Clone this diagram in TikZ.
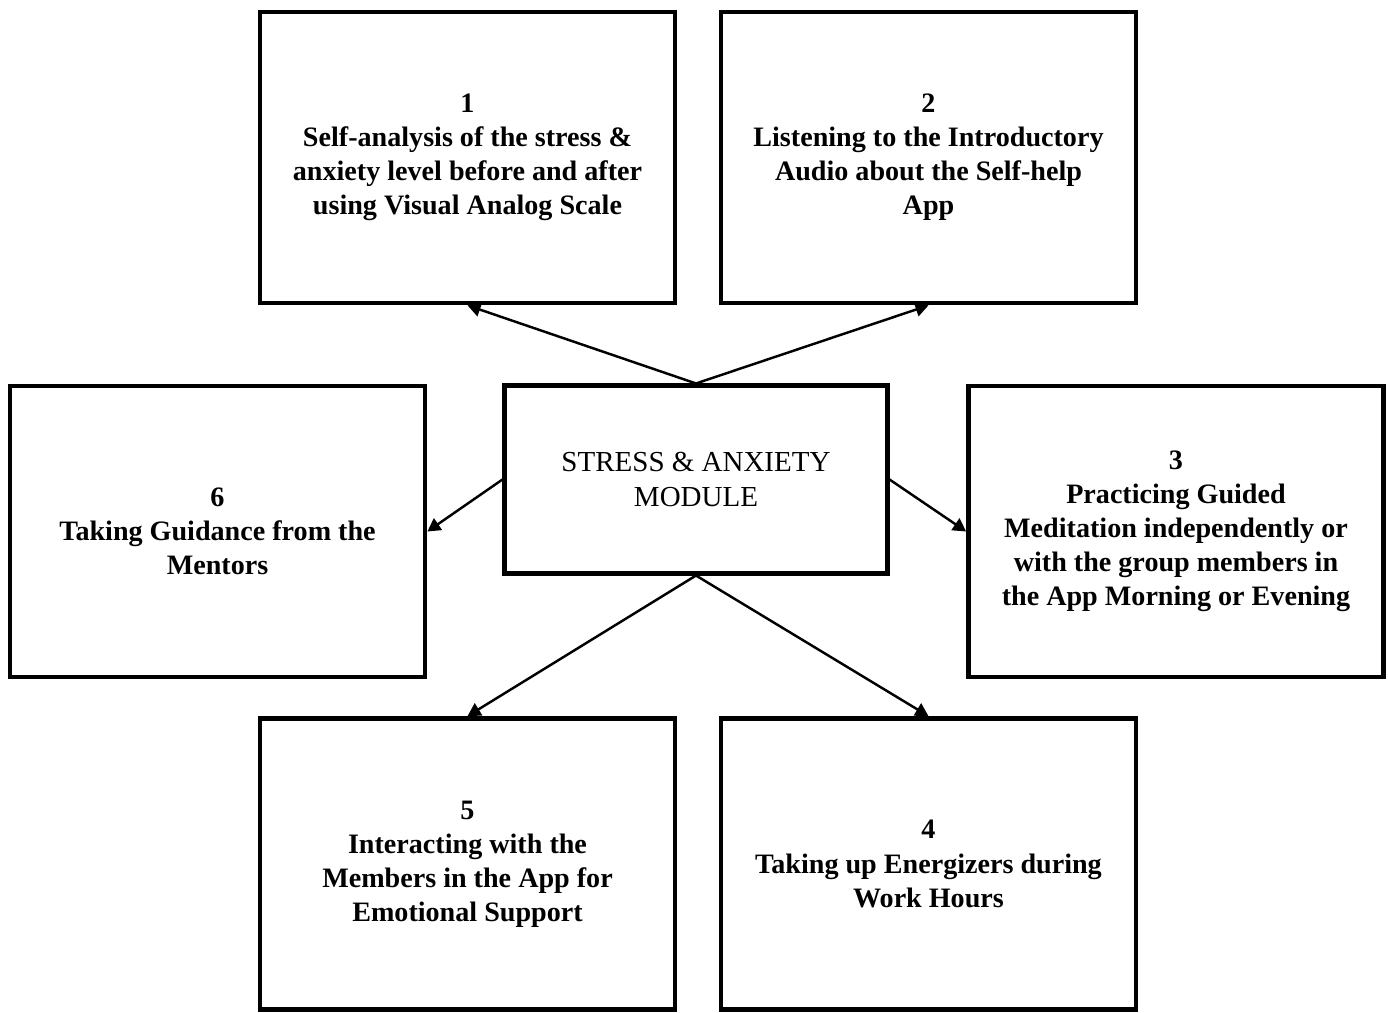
\documentclass[tikz,border=0pt]{standalone}
\usepackage{fontspec}
\setmainfont{Liberation Serif}
\usepackage{tikz}
\usetikzlibrary{arrows.meta, positioning}

\begin{document}
\begin{tikzpicture}[
    stepbox/.style={rectangle, draw=black, fill=white, line width=2.7pt, minimum width=8.3cm, minimum height=5.82cm, align=center, font=\fontsize{16}{19.4}\selectfont\bfseries},
    modulebox/.style={rectangle, draw=black, fill=white, line width=2.3pt, minimum width=7.66cm, minimum height=3.76cm, align=center, font=\fontsize{16.5}{19.4}\selectfont},
    link/.style={draw=black, line width=1.4pt, -{Triangle[length=0.26cm, width=0.28cm]}}
]
    \useasboundingbox (0,0) rectangle (27.76,20.26);

    % Central module
    \node[modulebox] (MODULE) at (13.92, 10.67) {STRESS \& ANXIETY\\MODULE};

    % Steps around the module
    \node[stepbox] (STEP1) at (9.35, 17.11) {1\\Self-analysis of the stress \&\\anxiety level before and after\\using Visual Analog Scale};
    \node[stepbox] (STEP2) at (18.57, 17.11) {2\\Listening to the Introductory\\Audio about the Self-help\\App};
    \node[stepbox] (STEP3) at (23.52, 9.63) {3\\Practicing Guided\\Meditation independently or\\with the group members in\\the App Morning or Evening};
    \node[stepbox] (STEP4) at (18.57, 2.98) {4\\Taking up Energizers during\\Work Hours};
    \node[stepbox] (STEP5) at (9.35, 2.98) {5\\Interacting with the\\Members in the App for\\Emotional Support};
    \node[stepbox] (STEP6) at (4.35, 9.63) {6\\Taking Guidance from the\\Mentors};

    % Arrows out of the module
    \draw[link] (MODULE.north) -- (STEP1.south);
    \draw[link] (MODULE.north) -- (STEP2.south);
    \draw[link] (MODULE.east) -- (STEP3.west);
    \draw[link] (MODULE.south) -- (STEP4.north);
    \draw[link] (MODULE.south) -- (STEP5.north);
    \draw[link] (MODULE.west) -- (STEP6.east);
\end{tikzpicture}
\end{document}
